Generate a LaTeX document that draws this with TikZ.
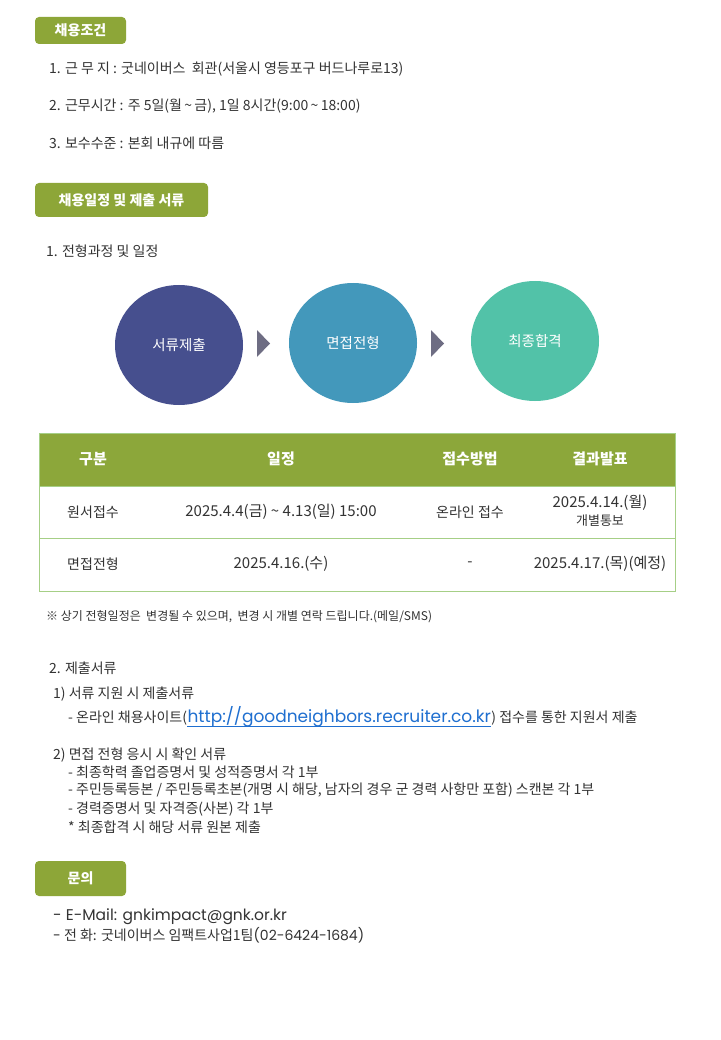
\documentclass[tikz,border=0pt]{standalone}
\usepackage{fontspec}
\setmainfont{Noto Sans CJK KR}
\newfontfamily\urlfont{Poppins}
\usetikzlibrary{shapes.geometric}
\definecolor{tagG}{HTML}{8DA638}
\definecolor{headG}{HTML}{8CA73A}
\definecolor{lineG}{HTML}{A6CF86}
\definecolor{cA}{HTML}{464F8E}
\definecolor{cB}{HTML}{4398BB}
\definecolor{cC}{HTML}{52C2A8}
\definecolor{arrC}{HTML}{6E6D83}
\definecolor{txt}{HTML}{333333}
\definecolor{urlc}{HTML}{1F6FD0}
\tikzset{
  tagbox/.style={fill=tagG, rounded corners=4pt, inner sep=0pt},
  tagtext/.style={text=white, font=\fontsize{14}{16}\selectfont\bfseries, inner sep=0pt},
  bodytext/.style={anchor=west, inner sep=0pt, text=txt, font=\fontsize{14}{16}\selectfont},
  smalltext/.style={anchor=west, inner sep=0pt, text=txt, font=\fontsize{12}{15}\selectfont},
  stage/.style={ellipse, minimum width=128pt, minimum height=120pt, inner sep=0pt, text=white, font=\fontsize{14.5}{17}\selectfont},
  headtext/.style={inner sep=0pt, text=white, font=\fontsize{15}{18}\selectfont\bfseries},
  celltext/.style={inner sep=0pt, text=txt, font=\fontsize{15}{17}\selectfont},
  urltext/.style={inner sep=0pt, text=urlc, font=\urlfont\fontsize{17}{20}\selectfont},
}
\begin{document}
\begin{tikzpicture}[x=1pt,y=-1pt]
\useasboundingbox (0,0) rectangle (720,1040);
\fill[white] (0,0) rectangle (720,1040);

% section 1
\fill[tagbox] (35,17) rectangle (126,44);
\node[tagtext] (t1) at (80.5,30.5) {채용조건};
\node[bodytext] (l1) at (49,69) {1. 근 무 지 : 굿네이버스\ \ 회관(서울시 영등포구 버드나루로13)};
\node[bodytext] (l2) at (49,106) {2. 근무시간 : 주 5일(월\,\textasciitilde\,금), 1일 8시간(9:00\,\textasciitilde\,18:00)};
\node[bodytext] (l3) at (49,143) {3. 보수수준 : 본회 내규에 따름};

% section 2
\fill[tagbox] (35,183) rectangle (208,217);
\node[tagtext] (t2) at (121.5,200) {채용일정 및 제출 서류};
\node[bodytext] (l4) at (46,251) {1. 전형과정 및 일정};

\node[stage, fill=cA] (s1) at (179,345) {서류제출};
\node[stage, fill=cB] (s2) at (353,343) {면접전형};
\node[stage, fill=cC] (s3) at (535,341) {최종합격};
\fill[arrC] (257,330) -- (270,343.5) -- (257,357) -- cycle;
\fill[arrC] (431,330) -- (444,343.5) -- (431,357) -- cycle;

% table
\fill[headG] (39,433) rectangle (675,486);
\draw[lineG, line width=1pt] (39,486) -- (675,486);
\draw[lineG, line width=1pt] (39,538) -- (675,538);
\draw[lineG, line width=1pt] (39,433) rectangle (675,591);
\node[headtext] (h1) at (93,459) {구분};
\node[headtext] (h2) at (281,459) {일정};
\node[headtext] (h3) at (470,459) {접수방법};
\node[headtext] (h4) at (600,459) {결과발표};
\node[celltext, font=\fontsize{14}{17}\selectfont] (r11) at (93,512) {원서접수};
\node[celltext] (r12) at (281,512) {2025.4.4(금) \textasciitilde\ 4.13(일) 15:00};
\node[celltext, font=\fontsize{14}{17}\selectfont] (r13) at (470,512) {온라인 접수};
\node[celltext] (r14) at (600,503) {2025.4.14.(월)};
\node[celltext, font=\fontsize{13}{15}\selectfont] (r14b) at (600,521) {개별통보};
\node[celltext, font=\fontsize{14}{17}\selectfont] (r21) at (93,564) {면접전형};
\node[celltext] (r22) at (281,564) {2025.4.16.(수)};
\node[celltext] (r23) at (470,564) {-};
\node[celltext] (r24) at (600,564) {2025.4.17.(목)(예정)};

\node[smalltext] (note) at (46,617) {※ 상기 전형일정은\ \ 변경될 수 있으며,\ \ 변경 시 개별 연락 드립니다.(메일/SMS)};

\node[bodytext] (d0) at (49,668) {2. 제출서류};
\node[bodytext] (d1) at (53,694) {1) 서류 지원 시 제출서류};
\node[bodytext] (d1a) at (68,718) {- 온라인 채용사이트(};
\node[urltext, anchor=base west] (url) at (d1a.base east) {http://goodneighbors.recruiter.co.kr};
\node[bodytext, anchor=base west] (d1b) at (url.base east) {) 접수를 통한 지원서 제출};
\draw[urlc, line width=0.8pt] ([yshift=-4pt]url.base west) -- ([yshift=-4pt]url.base east);
\node[bodytext] (d2) at (53,755) {2) 면접 전형 응시 시 확인 서류};
\node[bodytext] (d2a) at (68,772) {- 최종학력 졸업증명서 및 성적증명서 각 1부};
\node[bodytext] (d2b) at (68,790) {- 주민등록등본 / 주민등록초본(개명 시 해당, 남자의 경우 군 경력 사항만 포함) 스캔본 각 1부};
\node[bodytext] (d2c) at (68,809) {- 경력증명서 및 자격증(사본) 각 1부};
\node[bodytext] (d2d) at (68,827) {* 최종합격 시 해당 서류 원본 제출};

% section 3
\fill[tagbox] (35,861) rectangle (126,896);
\node[tagtext] (t3) at (80.5,878.5) {문의};
\node[bodytext] (m1) at (53,917) {{\urlfont\fontsize{15.5}{18}\selectfont - E-Mail: gnkimpact@gnk.or.kr}};
\node[bodytext] (m2) at (53,935) {{\urlfont -} 전 화: 굿네이버스 임팩트사업1팀{\urlfont (02-6424-1684)}};
\end{tikzpicture}
\end{document}
